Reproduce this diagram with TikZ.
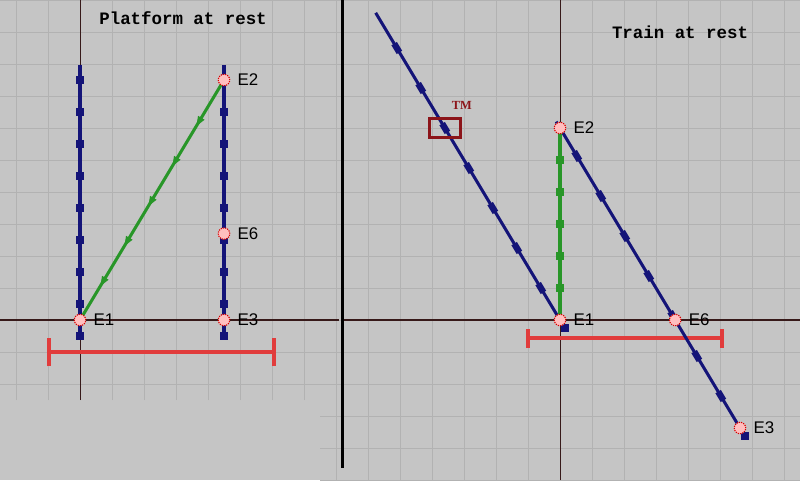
\documentclass[tikz,border=0pt]{standalone}
\usepackage{fontspec}
\setmainfont{Liberation Sans}
\newfontfamily\courierfont{Liberation Mono}
\newfontfamily\timesfont{Liberation Serif}
\usetikzlibrary{positioning,calc,shapes.geometric}

\definecolor{panelgray}{RGB}{197,197,197}
\definecolor{gridgray}{RGB}{178,178,178}
\definecolor{axisbrown}{RGB}{55,25,25}
\definecolor{wlblue}{RGB}{20,20,120}
\definecolor{wlgreen}{RGB}{40,150,40}
\definecolor{barred}{RGB}{225,60,60}
\definecolor{tmred}{RGB}{140,20,25}

\tikzset{
	gridline/.style={gridgray, line width=0.8pt},
	axisline/.style={axisbrown, line width=0.9pt},
	bluewl/.style={wlblue, line width=2.7pt},
	greenwl/.style={wlgreen, line width=2.7pt},
	rod/.style={barred, line width=3.4pt},
	btick/.style={rectangle, fill=wlblue, minimum size=0.25cm, inner sep=0},
	rtick/.style={rectangle, fill=wlblue, minimum width=0.32cm, minimum height=0.2cm, inner sep=0, rotate=121},
	gtick/.style={rectangle, fill=wlgreen, minimum size=0.25cm, inner sep=0},
	garrow/.style={isosceles triangle, isosceles triangle stretches, fill=wlgreen, minimum height=0.3cm, minimum width=0.24cm, inner sep=0},
	event/.style={circle, fill=red!25!white, draw=red!85!black, densely dotted, line width=1pt, minimum size=0.36cm, inner sep=0},
	evlabel/.style={inner sep=0, font=\fontsize{15}{18}\selectfont},
	heading/.style={inner sep=0, font=\courierfont\bfseries\fontsize{15.5}{18}\selectfont},
	tmlabel/.style={inner sep=0, text=tmred, font=\timesfont\bfseries\fontsize{11}{13}\selectfont},
}

\begin{document}
\begin{tikzpicture}[x=1cm,y=1cm]
	\useasboundingbox (0,0) rectangle (25,15);
	\fill[panelgray] (0,0) rectangle (25,15);

	% train frame grid
	\foreach \x in {10.5,11.5,...,24.5} \draw[gridline] (\x,0) -- (\x,15);
	\foreach \y in {0,...,15} \draw[gridline] (10,\y) -- (25,\y);
	% platform frame panel
	\fill[panelgray] (0,2.5) rectangle (10.6,15);
	\foreach \x in {0.5,1.5,...,10.5} \draw[gridline] (\x,2.5) -- (\x,15);
	\foreach \y in {3,...,15} \draw[gridline] (0,\y) -- (10.6,\y);

	% axes
	\draw[axisline] (0,5) -- (10.6,5);
	\draw[axisline] (2.53,2.5) -- (2.53,15);
	\draw[axisline] (10.7,5) -- (25,5);
	\draw[axisline] (17.5,0) -- (17.5,15);
	\draw[black, line width=2.4pt] (10.71,15) -- (10.71,0.375);

	% platform at rest
	\coordinate (pl1) at (2.5,5);
	\coordinate (pl2) at (7,12.5);
	\coordinate (pl3) at (7,5);
	\coordinate (pl6) at (7,7.7);
	\coordinate (atop) at (2.5,12.97);
	\coordinate (abot) at (2.5,4.44);
	\coordinate (btop) at (7,12.97);
	\coordinate (bbot) at (7,4.44);
	\coordinate (rl) at (1.53,4);
	\coordinate (rr) at (8.56,4);

	\draw[rod] (rl) -- (rr);
	\draw[rod] ($(rl)+(0,-0.45)$) -- ($(rl)+(0,0.45)$);
	\draw[rod] ($(rr)+(0,-0.45)$) -- ($(rr)+(0,0.45)$);
	\draw[bluewl] (atop) -- (abot);
	\draw[bluewl] (btop) -- (bbot);
	\foreach \k in {0,...,8} {
		\node[btick] (ta\k) at (2.5,12.5-\k) {};
		\node[btick] (tb\k) at (7,12.5-\k) {};
	}
	\draw[greenwl] (pl2) -- (pl1);
	\foreach \k in {1,...,5}
		\node[garrow, rotate=239] (ga\k) at ($(pl2)!\k/6!(pl1)$) {};

	\node[event] (e1l) at (pl1) {};
	\node[event] (e2l) at (pl2) {};
	\node[event] (e3l) at (pl3) {};
	\node[event] (e6l) at (pl6) {};
	\node[evlabel, right=0.22cm of e1l] (e1lt) {E1};
	\node[evlabel, right=0.22cm of e2l] (e2lt) {E2};
	\node[evlabel, right=0.22cm of e3l] (e3lt) {E3};
	\node[evlabel, right=0.22cm of e6l] (e6lt) {E6};
	\node[heading] (plat) at (5.72,14.44) {Platform at rest};

	% train at rest
	\coordinate (tr1) at (17.5,5);
	\coordinate (tr2) at (17.5,11);
	\coordinate (tr3) at (23.125,1.625);
	\coordinate (tr6) at (21.1,5);
	\coordinate (ctop) at (11.74,14.6);
	\coordinate (cend) at (17.65,4.75);
	\coordinate (dtop) at (17.38,11.2);
	\coordinate (dend) at (23.275,1.375);
	\coordinate (sl) at (16.51,4.43);
	\coordinate (sr) at (22.57,4.43);

	\draw[rod] (sl) -- (sr);
	\draw[rod] ($(sl)+(0,-0.3)$) -- ($(sl)+(0,0.3)$);
	\draw[rod] ($(sr)+(0,-0.3)$) -- ($(sr)+(0,0.3)$);
	\draw[bluewl] (ctop) -- (cend);
	\draw[bluewl] (dtop) -- (dend);
	\foreach \k in {1,...,7} {
		\node[rtick] (tc\k) at ($(cend)+\k*(-0.75,1.25)$) {};
		\node[rtick] (td\k) at ($(dend)+\k*(-0.75,1.25)$) {};
	}
	\node[btick] (cendq) at (cend) {};
	\node[btick] (dendq) at (dend) {};
	\draw[greenwl] (tr2) -- (tr1);
	\foreach \k in {1,...,5}
		\node[gtick] (gb\k) at (17.5,5+\k) {};

	\node[draw=tmred, line width=2.6pt, minimum width=0.98cm, minimum height=0.58cm, inner sep=0] (tmbox) at (13.9,11) {};
	\node[tmlabel, above=0.24cm of tmbox.north east] (tmtext) {TM};

	\node[event] (e1r) at (tr1) {};
	\node[event] (e2r) at (tr2) {};
	\node[event] (e3r) at (tr3) {};
	\node[event] (e6r) at (tr6) {};
	\node[evlabel, right=0.22cm of e1r] (e1rt) {E1};
	\node[evlabel, right=0.22cm of e2r] (e2rt) {E2};
	\node[evlabel, right=0.22cm of e3r] (e3rt) {E3};
	\node[evlabel, right=0.22cm of e6r] (e6rt) {E6};
	\node[heading] (train) at (21.25,14.0) {Train at rest};
\end{tikzpicture}
\end{document}
